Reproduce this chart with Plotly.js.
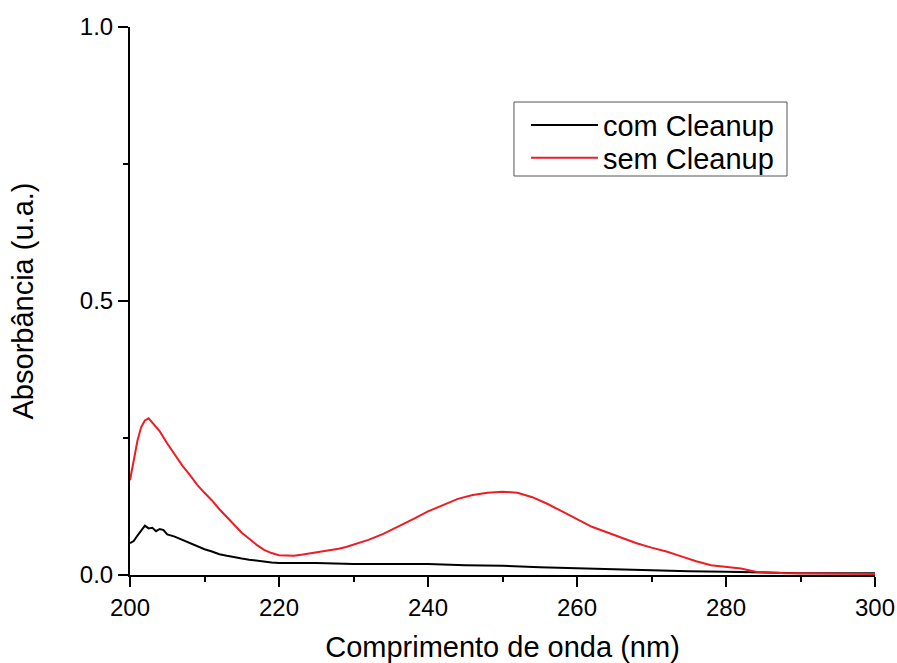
<!DOCTYPE html>
<html>
<head>
<meta charset="utf-8">
<script src="https://cdn.plot.ly/plotly-3.0.1.min.js"></script>
<style>
  html, body { margin: 0; padding: 0; background: #fff; }
  #chart { width: 897px; height: 663px; }
</style>
</head>
<body>
<div id="chart"></div>
<script>
// UV absorption spectra, with and without the cleanup step
const comWavelength = [200, 200.5, 201, 201.5, 202, 202.5, 203, 203.5, 204, 204.5, 205, 206, 207, 208, 209, 210,
  211, 212, 213, 214, 215, 216, 217, 218, 219, 220, 225, 230, 235, 240, 245, 250, 255, 260, 265, 270,
  275, 280, 285, 290, 295, 300];
const comAbsorbance = [0.058, 0.062, 0.072, 0.080, 0.090, 0.085, 0.086, 0.080, 0.084, 0.082, 0.074, 0.070, 0.064, 0.058, 0.052, 0.047,
  0.043, 0.038, 0.035, 0.032, 0.030, 0.028, 0.026, 0.024, 0.023, 0.022, 0.022, 0.020, 0.020, 0.020, 0.018, 0.017, 0.014, 0.012, 0.010, 0.008,
  0.007, 0.006, 0.004, 0.003, 0.003, 0.003];

const semWavelength = [200, 200.5, 201, 201.5, 202, 202.5, 203, 204, 205, 206, 207, 208, 209, 210,
  211, 212, 213, 214, 215, 216, 217, 218, 219, 220, 221, 222, 223, 224, 225, 226, 227, 228, 229, 230,
  232, 234, 236, 238, 240, 242, 244, 246, 248, 250, 252, 254, 256, 258, 260, 262, 264, 266, 268, 270,
  272, 274, 276, 278, 280, 282, 284, 286, 288, 290, 295, 300];
const semAbsorbance = [0.173, 0.210, 0.245, 0.270, 0.282, 0.286, 0.278, 0.262, 0.240, 0.220, 0.200, 0.183, 0.165, 0.150,
  0.136, 0.120, 0.105, 0.090, 0.077, 0.066, 0.055, 0.046, 0.040, 0.036, 0.035, 0.035, 0.037, 0.039, 0.041, 0.043, 0.045, 0.048, 0.051, 0.055,
  0.064, 0.075, 0.088, 0.102, 0.116, 0.128, 0.139, 0.146, 0.150, 0.152, 0.150, 0.142, 0.130, 0.116, 0.102, 0.088, 0.078, 0.068, 0.058, 0.050,
  0.043, 0.034, 0.025, 0.018, 0.015, 0.012, 0.006, 0.004, 0.003, 0.003, 0.003, 0.002];

const seriesNames = ['com Cleanup', 'sem Cleanup'];
const xTitle = 'Comprimento de onda (nm)';
const yTitle = 'Absorbância (u.a.)';

const font = 'Arial, "Liberation Sans", sans-serif';

// each series gets its own one-row legend so the rows can sit closer together
const traces = [
  { x: comWavelength, y: comAbsorbance, name: seriesNames[0], type: 'scatter', mode: 'lines',
    line: { color: '#000000', width: 2 }, legend: 'legend' },
  { x: semWavelength, y: semAbsorbance, name: seriesNames[1], type: 'scatter', mode: 'lines',
    line: { color: '#ee1c24', width: 2 }, legend: 'legend2' }
];

const axisCommon = {
  showgrid: false, zeroline: false, showline: true, linecolor: '#000', linewidth: 2,
  ticks: 'outside', ticklen: 10, tickwidth: 2, tickcolor: '#000',
  tickfont: { family: font, size: 24, color: '#000' },
  mirror: false
};

const legendCommon = {
  x: 0.5315, xanchor: 'left', yanchor: 'middle',
  borderwidth: 0, bgcolor: 'rgba(0,0,0,0)',
  font: { family: font, size: 29, color: '#000' },
  itemwidth: 67
};

const layout = {
  width: 897, height: 663,
  margin: { l: 130, r: 22, t: 27, b: 88 },
  paper_bgcolor: '#fff', plot_bgcolor: '#fff',
  showlegend: true,
  legend: Object.assign({}, legendCommon, { y: 0.821 }),
  legend2: Object.assign({}, legendCommon, { y: 0.761 }),
  shapes: [
    // frame around the two legend rows
    { type: 'rect', xref: 'paper', yref: 'paper', x0: 0.5154, x1: 0.8819, y0: 0.7281, y1: 0.8631,
      line: { color: '#555', width: 1 }, fillcolor: 'rgba(0,0,0,0)', layer: 'above' }
  ],
  xaxis: Object.assign({}, axisCommon, {
    range: [200, 300], dtick: 20, tick0: 200,
    minor: { dtick: 10, ticks: 'outside', ticklen: 5, tickwidth: 2, tickcolor: '#000', showgrid: false },
    title: { text: xTitle, font: { family: font, size: 29, color: '#000' }, standoff: 18 }
  }),
  yaxis: Object.assign({}, axisCommon, {
    range: [0, 1], dtick: 0.5, tick0: 0, tickformat: '.1f',
    minor: { dtick: 0.25, ticks: 'outside', ticklen: 5, tickwidth: 2, tickcolor: '#000', showgrid: false },
    title: { text: yTitle, font: { family: font, size: 29, color: '#000' }, standoff: 38 }
  })
};

Plotly.newPlot('chart', traces, layout, { displayModeBar: false, staticPlot: true });
</script>
</body>
</html>
